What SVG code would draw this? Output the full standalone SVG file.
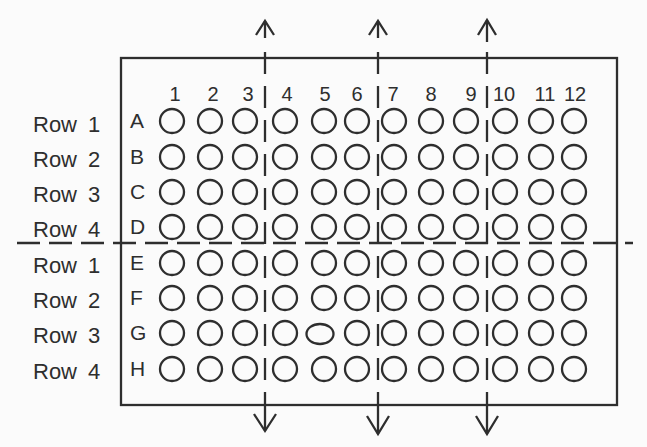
<svg xmlns="http://www.w3.org/2000/svg" width="647" height="447" viewBox="0 0 647 447">
<style>
text{font-family:"Liberation Sans",Arial,sans-serif;fill:#2e2e2e}
.rl{font-size:22px}
.lt{font-size:21px}
.cn{font-size:20px;text-anchor:middle}
.w{fill:none;stroke:#2e2e2e;stroke-width:2.3}
.plate{fill:none;stroke:#2e2e2e;stroke-width:2.3}
.dv{stroke:#2e2e2e;stroke-width:2.3;stroke-dasharray:22 12;fill:none}
.dh{stroke:#2e2e2e;stroke-width:2.3;stroke-dasharray:23 9;fill:none}
.ar{stroke:#2e2e2e;stroke-width:2.3;fill:none}
</style>
<rect x="0" y="0" width="647" height="447" fill="#fbfbfb"/>
<g id="plate"><rect class="plate" x="121" y="58" width="496" height="347"/></g>
<g id="row-labels">
<text class="rl" x="33" y="132">Row<tspan x="88">1</tspan></text>
<text class="rl" x="33" y="167">Row<tspan x="88">2</tspan></text>
<text class="rl" x="33" y="202">Row<tspan x="88">3</tspan></text>
<text class="rl" x="33" y="237">Row<tspan x="88">4</tspan></text>
<text class="rl" x="33" y="273">Row<tspan x="88">1</tspan></text>
<text class="rl" x="33" y="308">Row<tspan x="88">2</tspan></text>
<text class="rl" x="33" y="343">Row<tspan x="88">3</tspan></text>
<text class="rl" x="33" y="379">Row<tspan x="88">4</tspan></text>
</g>
<g id="row-letters">
<text class="lt" x="130" y="128">A</text>
<text class="lt" x="130" y="164">B</text>
<text class="lt" x="130" y="199">C</text>
<text class="lt" x="130" y="234">D</text>
<text class="lt" x="130" y="270">E</text>
<text class="lt" x="130" y="305">F</text>
<text class="lt" x="130" y="340">G</text>
<text class="lt" x="130" y="376">H</text>
</g>
<g id="column-numbers">
<text class="cn" x="175" y="101">1</text>
<text class="cn" x="213" y="101">2</text>
<text class="cn" x="248" y="101">3</text>
<text class="cn" x="287" y="101">4</text>
<text class="cn" x="325" y="101">5</text>
<text class="cn" x="357" y="101">6</text>
<text class="cn" x="393" y="101">7</text>
<text class="cn" x="431" y="101">8</text>
<text class="cn" x="471" y="101">9</text>
<text class="cn" x="504" y="101">10</text>
<text class="cn" x="545" y="101">11</text>
<text class="cn" x="575" y="101">12</text>
</g>
<g id="wells">
<g id="A1"><circle class="w" cx="172" cy="121" r="12"/></g><g id="A2"><circle class="w" cx="210" cy="121" r="12"/></g><g id="A3"><circle class="w" cx="245" cy="121" r="12"/></g><g id="A4"><circle class="w" cx="285" cy="121" r="12"/></g><g id="A5"><circle class="w" cx="324" cy="121" r="12"/></g><g id="A6"><circle class="w" cx="357" cy="121" r="12"/></g><g id="A7"><circle class="w" cx="394" cy="121" r="12"/></g><g id="A8"><circle class="w" cx="431" cy="121" r="12"/></g><g id="A9"><circle class="w" cx="466" cy="121" r="12"/></g><g id="A10"><circle class="w" cx="505" cy="121" r="12"/></g><g id="A11"><circle class="w" cx="541" cy="121" r="12"/></g><g id="A12"><circle class="w" cx="574" cy="121" r="12"/></g>
<g id="B1"><circle class="w" cx="172" cy="157" r="12"/></g><g id="B2"><circle class="w" cx="210" cy="157" r="12"/></g><g id="B3"><circle class="w" cx="245" cy="157" r="12"/></g><g id="B4"><circle class="w" cx="285" cy="157" r="12"/></g><g id="B5"><circle class="w" cx="324" cy="157" r="12"/></g><g id="B6"><circle class="w" cx="357" cy="157" r="12"/></g><g id="B7"><circle class="w" cx="394" cy="157" r="12"/></g><g id="B8"><circle class="w" cx="431" cy="157" r="12"/></g><g id="B9"><circle class="w" cx="466" cy="157" r="12"/></g><g id="B10"><circle class="w" cx="505" cy="157" r="12"/></g><g id="B11"><circle class="w" cx="541" cy="157" r="12"/></g><g id="B12"><circle class="w" cx="574" cy="157" r="12"/></g>
<g id="C1"><circle class="w" cx="172" cy="192" r="12"/></g><g id="C2"><circle class="w" cx="210" cy="192" r="12"/></g><g id="C3"><circle class="w" cx="245" cy="192" r="12"/></g><g id="C4"><circle class="w" cx="285" cy="192" r="12"/></g><g id="C5"><circle class="w" cx="324" cy="192" r="12"/></g><g id="C6"><circle class="w" cx="357" cy="192" r="12"/></g><g id="C7"><circle class="w" cx="394" cy="192" r="12"/></g><g id="C8"><circle class="w" cx="431" cy="192" r="12"/></g><g id="C9"><circle class="w" cx="466" cy="192" r="12"/></g><g id="C10"><circle class="w" cx="505" cy="192" r="12"/></g><g id="C11"><circle class="w" cx="541" cy="192" r="12"/></g><g id="C12"><circle class="w" cx="574" cy="192" r="12"/></g>
<g id="D1"><circle class="w" cx="172" cy="227" r="12"/></g><g id="D2"><circle class="w" cx="210" cy="227" r="12"/></g><g id="D3"><circle class="w" cx="245" cy="227" r="12"/></g><g id="D4"><circle class="w" cx="285" cy="227" r="12"/></g><g id="D5"><circle class="w" cx="324" cy="227" r="12"/></g><g id="D6"><circle class="w" cx="357" cy="227" r="12"/></g><g id="D7"><circle class="w" cx="394" cy="227" r="12"/></g><g id="D8"><circle class="w" cx="431" cy="227" r="12"/></g><g id="D9"><circle class="w" cx="466" cy="227" r="12"/></g><g id="D10"><circle class="w" cx="505" cy="227" r="12"/></g><g id="D11"><circle class="w" cx="541" cy="227" r="12"/></g><g id="D12"><circle class="w" cx="574" cy="227" r="12"/></g>
<g id="E1"><circle class="w" cx="172" cy="263" r="12"/></g><g id="E2"><circle class="w" cx="210" cy="263" r="12"/></g><g id="E3"><circle class="w" cx="245" cy="263" r="12"/></g><g id="E4"><circle class="w" cx="285" cy="263" r="12"/></g><g id="E5"><circle class="w" cx="324" cy="263" r="12"/></g><g id="E6"><circle class="w" cx="357" cy="263" r="12"/></g><g id="E7"><circle class="w" cx="394" cy="263" r="12"/></g><g id="E8"><circle class="w" cx="431" cy="263" r="12"/></g><g id="E9"><circle class="w" cx="466" cy="263" r="12"/></g><g id="E10"><circle class="w" cx="505" cy="263" r="12"/></g><g id="E11"><circle class="w" cx="541" cy="263" r="12"/></g><g id="E12"><circle class="w" cx="574" cy="263" r="12"/></g>
<g id="F1"><circle class="w" cx="172" cy="298" r="12"/></g><g id="F2"><circle class="w" cx="210" cy="298" r="12"/></g><g id="F3"><circle class="w" cx="245" cy="298" r="12"/></g><g id="F4"><circle class="w" cx="285" cy="298" r="12"/></g><g id="F5"><circle class="w" cx="324" cy="298" r="12"/></g><g id="F6"><circle class="w" cx="357" cy="298" r="12"/></g><g id="F7"><circle class="w" cx="394" cy="298" r="12"/></g><g id="F8"><circle class="w" cx="431" cy="298" r="12"/></g><g id="F9"><circle class="w" cx="466" cy="298" r="12"/></g><g id="F10"><circle class="w" cx="505" cy="298" r="12"/></g><g id="F11"><circle class="w" cx="541" cy="298" r="12"/></g><g id="F12"><circle class="w" cx="574" cy="298" r="12"/></g>
<g id="G1"><circle class="w" cx="172" cy="333" r="12"/></g><g id="G2"><circle class="w" cx="210" cy="333" r="12"/></g><g id="G3"><circle class="w" cx="245" cy="333" r="12"/></g><g id="G4"><circle class="w" cx="285" cy="333" r="12"/></g><g id="G5"><ellipse class="w" cx="320" cy="334" rx="13.5" ry="10"/></g><g id="G6"><circle class="w" cx="357" cy="333" r="12"/></g><g id="G7"><circle class="w" cx="394" cy="333" r="12"/></g><g id="G8"><circle class="w" cx="431" cy="333" r="12"/></g><g id="G9"><circle class="w" cx="466" cy="333" r="12"/></g><g id="G10"><circle class="w" cx="505" cy="333" r="12"/></g><g id="G11"><circle class="w" cx="541" cy="333" r="12"/></g><g id="G12"><circle class="w" cx="574" cy="333" r="12"/></g>
<g id="H1"><circle class="w" cx="172" cy="369" r="12"/></g><g id="H2"><circle class="w" cx="210" cy="369" r="12"/></g><g id="H3"><circle class="w" cx="245" cy="369" r="12"/></g><g id="H4"><circle class="w" cx="285" cy="369" r="12"/></g><g id="H5"><circle class="w" cx="324" cy="369" r="12"/></g><g id="H6"><circle class="w" cx="357" cy="369" r="12"/></g><g id="H7"><circle class="w" cx="394" cy="369" r="12"/></g><g id="H8"><circle class="w" cx="431" cy="369" r="12"/></g><g id="H9"><circle class="w" cx="466" cy="369" r="12"/></g><g id="H10"><circle class="w" cx="505" cy="369" r="12"/></g><g id="H11"><circle class="w" cx="541" cy="369" r="12"/></g><g id="H12"><circle class="w" cx="574" cy="369" r="12"/></g>
</g>
<g id="connectors">
<line class="dh" x1="17" y1="243" x2="633" y2="243"/>
<line class="dv" x1="265" y1="52" x2="265" y2="405"/>
<line class="dv" x1="378" y1="52" x2="378" y2="405"/>
<line class="dv" x1="487" y1="52" x2="487" y2="405"/>
<line class="ar" x1="265" y1="21" x2="265" y2="38"/>
<line class="ar" x1="378" y1="21" x2="378" y2="38"/>
<line class="ar" x1="487" y1="20" x2="487" y2="42"/>
<polyline class="ar" points="256,35 265,21 274,35"/>
<polyline class="ar" points="369,35 378,21 387,35"/>
<polyline class="ar" points="478,35 487,20 496,35"/>
<line class="ar" x1="265" y1="405" x2="265" y2="431"/>
<line class="ar" x1="378" y1="405" x2="378" y2="434"/>
<line class="ar" x1="487" y1="405" x2="487" y2="434"/>
<polyline class="ar" points="254,414 265,431 276,414"/>
<polyline class="ar" points="367,416 378,434 389,416"/>
<polyline class="ar" points="476,416 487,434 498,416"/>
</g>
</svg>
